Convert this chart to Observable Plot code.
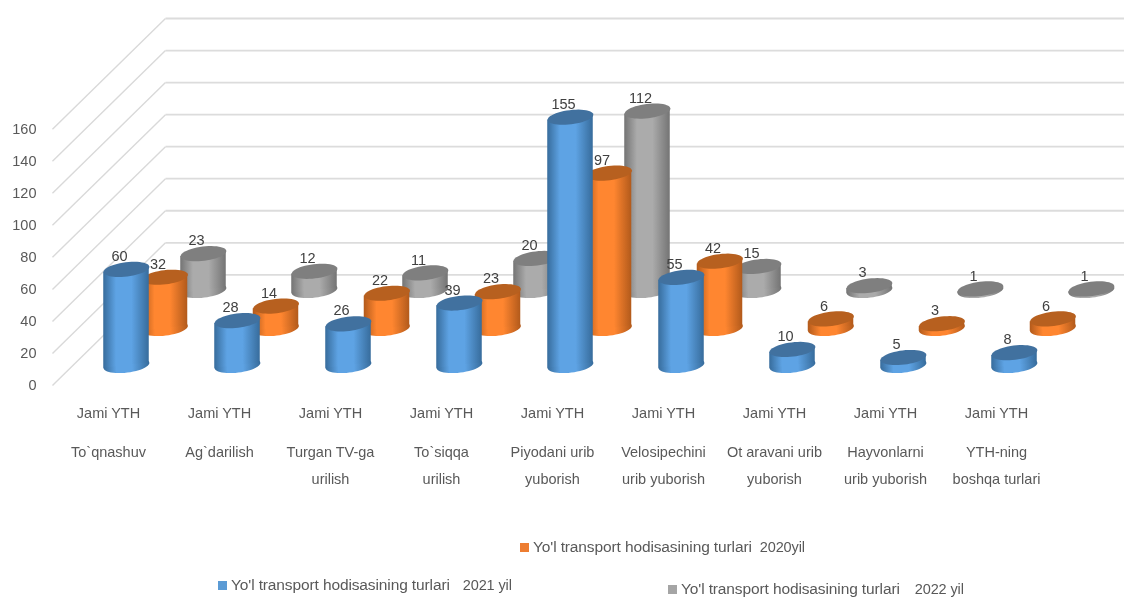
<!DOCTYPE html>
<html>
<head>
<meta charset="utf-8">
<script src="https://cdn.jsdelivr.net/npm/d3@7"></script>
<script src="https://cdn.jsdelivr.net/npm/@observablehq/plot@0.6"></script>
<style>
  html, body { margin: 0; padding: 0; background: #fff; overflow: hidden; }
  #wrap { position: relative; width: 1124px; height: 597px; overflow: hidden; filter: blur(0.45px); }
  .lg { position: absolute; font: 15.5px "Liberation Sans", sans-serif; letter-spacing: -0.12px; color: #595959; white-space: nowrap; }
  .lg i { display: inline-block; width: 9px; height: 9px; margin-right: 4px; }
  .lg span { font-size: 14.5px; }
</style>
</head>
<body>
<div id="wrap"></div>
<script>
const categories = ["To`qnashuv", "Ag`darilish", "Turgan TV-ga\nurilish", "To`siqqa\nurilish", "Piyodani urib\nyuborish", "Velosipechini\nurib yuborish", "Ot aravani urib\nyuborish", "Hayvonlarni\nurib yuborish", "YTH-ning\nboshqa turlari"];
const groupLabel = "Jami YTH";
const values2021 = [60, 28, 26, 39, 155, 55, 10, 5, 8];
const values2020 = [32, 14, 22, 23, 97, 42, 6, 3, 6];
const values2022 = [23, 12, 11, 20, 112, 15, 3, 1, 1];
const yTicks = [0, 20, 40, 60, 80, 100, 120, 140, 160];
const legendName = "Yo'l transport hodisasining turlari";

// back-to-front drawing order
const series = [
  {id: "g22", values: values2022, dx: 77, dy: -95, top: "#7f7f7f", edge: "#747474", mid: "#ababab"},
  {id: "g20", values: values2020, dx: 38.5, dy: -57, top: "#b7601f", edge: "#b25a1b", mid: "#ff8630"},
  {id: "g21", values: values2021, dx: 0, dy: -20, top: "#41719f", edge: "#376c9c", mid: "#5ea3e4"}
];

const legends = [
  {label: legendName, year: "2020yil", color: "#ed7d31", left: 520, top: 538, gap: 8},
  {label: legendName, year: "2021 yil", color: "#5b9bd5", left: 218, top: 576, gap: 13},
  {label: legendName, year: "2022 yil", color: "#a5a5a5", left: 668, top: 580, gap: 15}
];

const ellipse = {
  draw(ctx, size) {
    const r = Math.sqrt(size / Math.PI), ry = r * 0.31, a = -7 * Math.PI / 180;
    for (let k = 0; k < 48; ++k) {
      const t = k / 48 * 2 * Math.PI;
      const ex = r * Math.cos(t), ey = ry * Math.sin(t);
      const px = ex * Math.cos(a) - ey * Math.sin(a), py = ex * Math.sin(a) + ey * Math.cos(a);
      k ? ctx.lineTo(px, py) : ctx.moveTo(px, py);
    }
    ctx.closePath();
  }
};

const defs = () => {
  const d = d3.create("svg:defs");
  for (const s of series) {
    const g = d.append("linearGradient").attr("id", s.id).attr("x1", 0).attr("x2", 1).attr("y1", 0).attr("y2", 0);
    g.append("stop").attr("offset", "0").attr("stop-color", s.edge);
    g.append("stop").attr("offset", "0.28").attr("stop-color", s.mid);
    g.append("stop").attr("offset", "0.62").attr("stop-color", s.mid);
    g.append("stop").attr("offset", "1").attr("stop-color", s.edge);
  }
  return d.node();
};

const halfW = 0.205;       // half a cylinder, in category units
const tilt = 1.74;         // rise of an ellipse's right end over its centre, in value units
const frontX = -0.667, backX = 0.351, rightX = 8.99;   // wall extents, in category units
const depthV = 69.1;       // floor depth, in value units
const idx = categories.map((_, i) => i);

const cyl = s => {
  const rows = s.values.map((v, i) => ({i, v}));
  // each body is a two-point area whose ends follow the tilted ellipses
  const ends = rows.flatMap(({i, v}) => [
    {i, x: i - halfW, y1: -tilt, y2: v - tilt},
    {i, x: i + halfW, y1: tilt, y2: v + tilt}
  ]);
  const common = {dx: s.dx, dy: s.dy};
  return [
    Plot.dot(rows, {x: "i", y: () => 0, r: 23, symbol: ellipse, fill: `url(#${s.id})`, ...common}),
    Plot.area(ends, {x1: "x", y1: "y1", y2: "y2", z: "i", fill: `url(#${s.id})`, ...common}),
    Plot.dot(rows, {x: "i", y: "v", r: 23, symbol: ellipse, fill: s.top, ...common})
  ];
};

const labels = s => Plot.text(s.values.map((v, i) => ({i, v})), {
  x: "i", y: "v", text: "v", dx: s.dx - 7, dy: s.dy - 13, fill: "#404040", fontSize: 14.5
});

const chart = Plot.plot({
  width: 1124,
  height: 540,
  marginLeft: 44,
  marginBottom: 135,
  marginTop: 0,
  marginRight: 0,
  style: {fontFamily: "'Liberation Sans', sans-serif", fontSize: "14.5px", background: "transparent", overflow: "visible"},
  x: {domain: [-1, 9], range: [15, 1125]},
  y: {domain: [0, 240], range: [385, 0.56]},
  marks: [
    defs,
    Plot.link(yTicks, {x1: () => frontX, x2: () => backX, y1: d => d, y2: d => d + depthV, stroke: "#d9d9d9", strokeWidth: 1.4}),
    Plot.link(yTicks, {x1: () => backX, x2: () => rightX, y1: d => d + depthV, y2: d => d + depthV, stroke: "#dcdcdc", strokeWidth: 1.8}),
    Plot.axisY({ticks: yTicks, tickSize: 0, tickPadding: 8, label: null, color: "#595959", tickFormat: d => d}),
    Plot.axisX({ticks: idx, tickSize: 0, tickPadding: 2, label: null, color: "#595959", dx: -18, tickFormat: () => groupLabel}),
    Plot.axisX({ticks: idx, tickSize: 0, tickPadding: 32, label: null, color: "#595959", dx: -18, lineHeight: 1.86, lineAnchor: "top", tickFormat: i => categories[i]}),
    ...series.flatMap(cyl),
    ...series.map(labels)
  ]
});

const wrap = document.getElementById("wrap");
wrap.appendChild(chart);
for (const l of legends) {
  const e = document.createElement("div");
  e.className = "lg";
  e.style.left = l.left + "px";
  e.style.top = l.top + "px";
  const sw = document.createElement("i");
  sw.style.background = l.color;
  const yr = document.createElement("span");
  yr.style.marginLeft = l.gap + "px";
  yr.textContent = l.year;
  e.append(sw, document.createTextNode(l.label), yr);
  wrap.appendChild(e);
}
</script>
</body>
</html>
